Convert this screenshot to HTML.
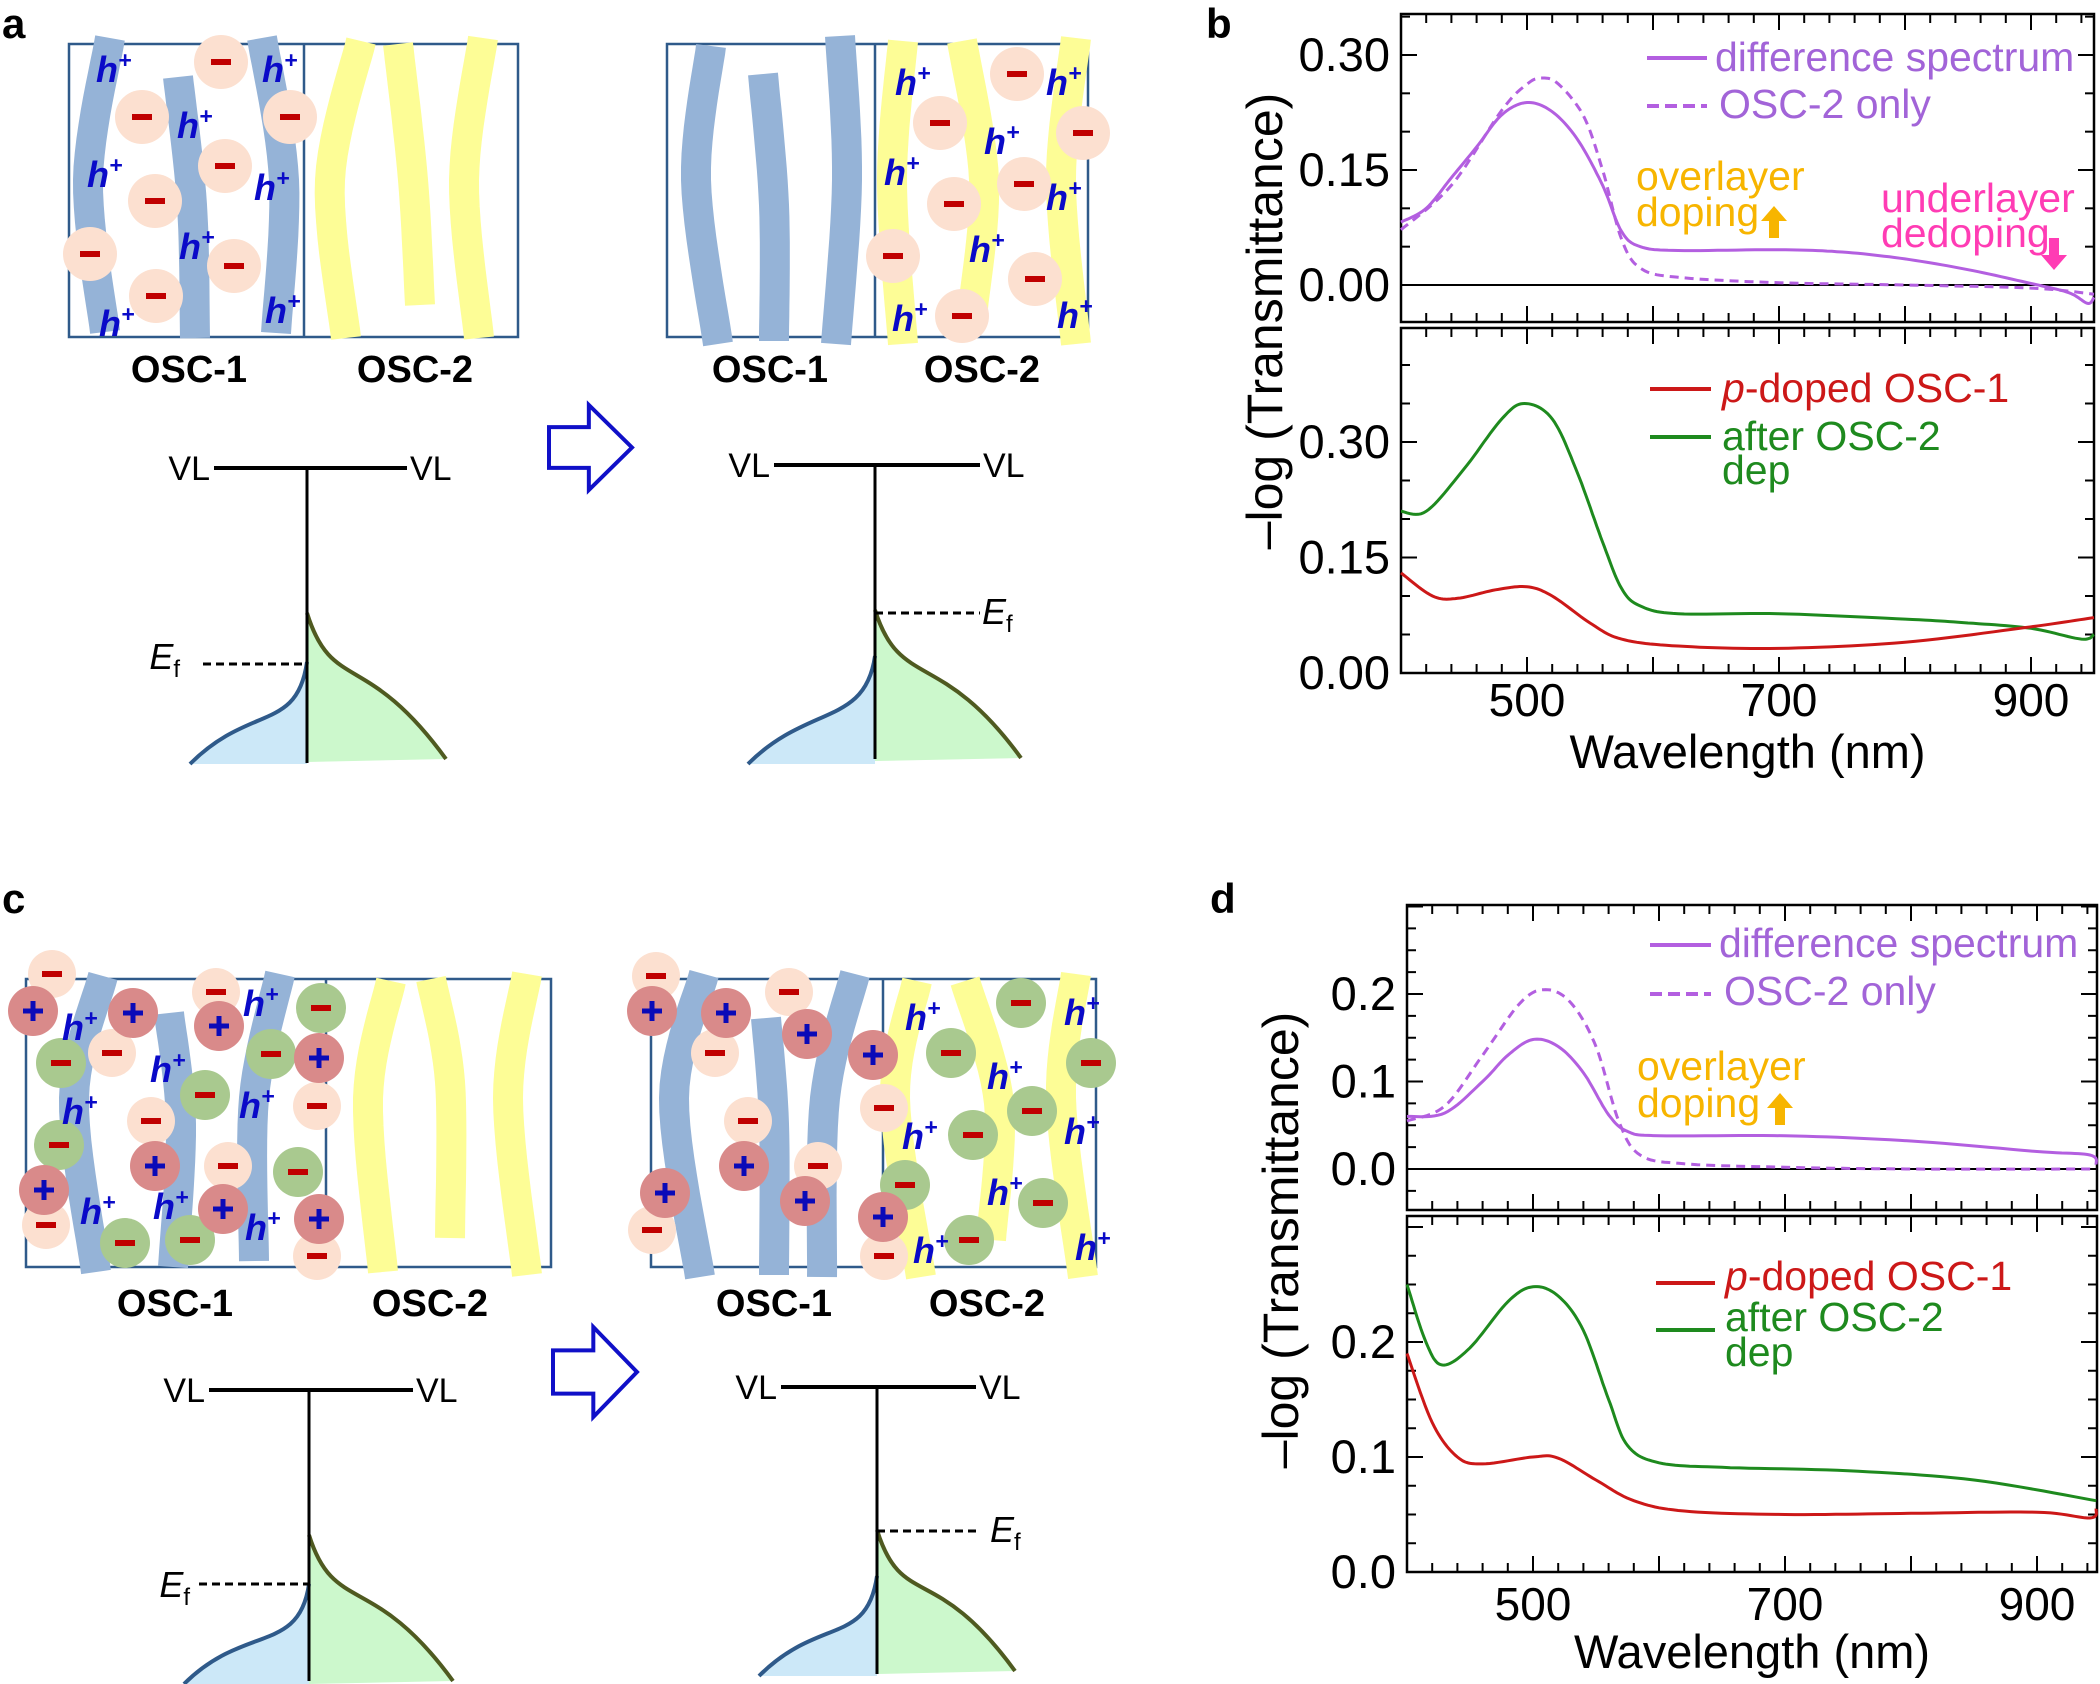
<!DOCTYPE html>
<html><head><meta charset="utf-8"><style>
html,body{margin:0;padding:0;background:#fff}
svg{display:block}
text{font-family:"Liberation Sans",Arial,sans-serif}
</style></head><body>
<svg id="s" xmlns="http://www.w3.org/2000/svg" width="2100" height="1684" viewBox="0 0 2100 1684">
<rect width="2100" height="1684" fill="#fff"/>
<g id="g"></g>
</svg>
<script>
const G=document.getElementById('g');
let H='';
function add(s){H+=s;}
function cr(pts,n){
  let out=[];
  for(let i=0;i<pts.length-1;i++){
    const p0=pts[Math.max(0,i-1)],p1=pts[i],p2=pts[i+1],p3=pts[Math.min(pts.length-1,i+2)];
    for(let t=0;t<n;t++){const u=t/n,u2=u*u,u3=u2*u;
      const f=(a,b,c,d)=>0.5*((2*b)+(-a+c)*u+(2*a-5*b+4*c-d)*u2+(-a+3*b-3*c+d)*u3);
      out.push([f(p0[0],p1[0],p2[0],p3[0]),f(p0[1],p1[1],p2[1],p3[1])]);}
  }
  out.push(pts[pts.length-1]);return out;
}
function poly(p){return p.map((q,i)=>(i?'L':'M')+q[0].toFixed(1)+' '+q[1].toFixed(1)).join('');}
function smooth(pts){return poly(cr(pts,12));}

function axes(L,R,T,B,yz,k,vmin,vmax,major,minor,labels,fmt){
  add(`<rect x="${L}" y="${T}" width="${R-L}" height="${B-T}" fill="none" stroke="#000" stroke-width="2.5"/>`);
  const px=1.26;
  for(let nm=400;nm<=950;nm+=20){const x=L+(nm-400)*px;const maj=nm%100==0;const l=maj?16:9;
    add(`<line x1="${x}" y1="${B}" x2="${x}" y2="${B-l}" stroke="#000" stroke-width="2"/><line x1="${x}" y1="${T}" x2="${x}" y2="${T+l}" stroke="#000" stroke-width="2"/>`);}
  for(let v=Math.ceil(vmin/minor-1e-6)*minor;v<=vmax+1e-9;v+=minor){const y=yz-v*k;if(y<T+1||y>B-1)continue;
    const maj=Math.abs(v/major-Math.round(v/major))<1e-6;const l=maj?16:9;
    add(`<line x1="${L}" y1="${y}" x2="${L+l}" y2="${y}" stroke="#000" stroke-width="2"/><line x1="${R}" y1="${y}" x2="${R-l}" y2="${y}" stroke="#000" stroke-width="2"/>`);}
  labels.forEach(v=>{const y=yz-v*k;add(`<text x="${L-11}" y="${y+16}" font-size="47" text-anchor="end">${v.toFixed(fmt)}</text>`);});
}
function curve(L,yz,k,data,col,dash){
  const pts=data.map(d=>[L+(d[0]-400)*1.26,yz-d[1]*k]);
  add(`<path d="${smooth(pts)}" fill="none" stroke="${col}" stroke-width="3" ${dash?'stroke-dasharray="9 6"':''}/>`);
}
const PU='#b35fe0',RED='#cc1818',GRN='#1e8a1e',OR='#f7b500',PK='#ff3cb4',LP='#a264d8';
function plotLabels(L,R,xb,wb,ytx,yty){
  [500,700,900].forEach(a=>{const x=L+(a-400)*1.26;add(`<text x="${x}" y="${xb}" font-size="46" text-anchor="middle">${a}</text>`);});
  add(`<text x="${(L+R)/2}" y="${wb}" font-size="47" text-anchor="middle">Wavelength (nm)</text>`);
  add(`<text transform="translate(${ytx},${yty}) rotate(-90)" font-size="50" text-anchor="middle">–log (Transmittance)</text>`);
}
const FS=41;
(function(){
  const L=1401,R=2094;
  axes(L,R,14,322,285,766.7,-0.05,0.36,0.15,0.05,[0.30,0.15,0.00],2);
  add(`<line x1="${L}" y1="285" x2="${R}" y2="285" stroke="#000" stroke-width="2"/>`);
  curve(L,285,766.7,[[400,0.082],[420,0.10],[440,0.14],[460,0.18],[480,0.222],[500,0.238],[520,0.226],[540,0.19],[560,0.13],[575,0.07],[590,0.05],[620,0.045],[700,0.046],[750,0.043],[800,0.034],[850,0.02],[900,0.002],[930,-0.01],[945,-0.024],[950,-0.016]],PU);
  curve(L,285,766.7,[[400,0.072],[440,0.13],[480,0.228],[500,0.262],[512,0.27],[525,0.262],[545,0.22],[560,0.15],[575,0.06],[590,0.022],[620,0.01],[700,0.003],[800,0.0],[900,-0.004],[950,-0.012]],PU,1);
  axes(L,R,328,673,673,770,0,0.46,0.15,0.05,[0.30,0.15,0.00],2);
  curve(L,673,770,[[400,0.21],[420,0.21],[450,0.265],[480,0.33],[498,0.35],[520,0.33],[540,0.26],[560,0.17],[575,0.11],[590,0.087],[620,0.077],[700,0.077],[800,0.07],[850,0.065],[900,0.058],[940,0.044],[950,0.05]],GRN);
  curve(L,673,770,[[400,0.13],[425,0.1],[445,0.097],[475,0.108],[500,0.112],[520,0.1],[550,0.065],[575,0.044],[620,0.035],[700,0.032],[800,0.04],[900,0.06],[950,0.072]],RED);
  plotLabels(L,R,716,768,1282,321);
  add(`<text x="1206" y="38" font-size="42" font-weight="bold">b</text>`);
  add(`<line x1="1647" y1="58" x2="1707" y2="58" stroke="${PU}" stroke-width="4"/><text x="1715" y="71" font-size="${FS}" fill="${LP}">difference spectrum</text>`);
  add(`<line x1="1647" y1="106" x2="1707" y2="106" stroke="${PU}" stroke-width="4" stroke-dasharray="12 6"/><text x="1719" y="118" font-size="${FS}" fill="${LP}">OSC-2 only</text>`);
  add(`<text x="1636" y="190" font-size="${FS}" fill="${OR}">overlayer</text><text x="1636" y="226" font-size="${FS}" fill="${OR}">doping</text>`);
  add(`<path d="M1774 206 L1787 221 L1779 221 L1779 238 L1769 238 L1769 221 L1761 221Z" fill="${OR}"/>`);
  add(`<text x="1881" y="212" font-size="${FS}" fill="${PK}">underlayer</text><text x="1881" y="247" font-size="${FS}" fill="${PK}">dedoping</text>`);
  add(`<path d="M2054 270 L2067 255 L2059 255 L2059 238 L2049 238 L2049 255 L2041 255Z" fill="${PK}"/>`);
  add(`<line x1="1650" y1="389" x2="1711" y2="389" stroke="${RED}" stroke-width="4"/><text x="1722" y="402" font-size="${FS}" fill="${RED}"><tspan font-style="italic">p</tspan>-doped OSC-1</text>`);
  add(`<line x1="1650" y1="437" x2="1711" y2="437" stroke="${GRN}" stroke-width="4"/><text x="1722" y="450" font-size="${FS}" fill="${GRN}">after OSC-2</text><text x="1722" y="484" font-size="${FS}" fill="${GRN}">dep</text>`);
})();
(function(){
  const L=1407,R=2097;
  axes(L,R,905,1210,1169,875,-0.05,0.31,0.1,0.025,[0.2,0.1,0.0],1);
  add(`<line x1="${L}" y1="1169" x2="${R}" y2="1169" stroke="#000" stroke-width="2"/>`);
  curve(L,1169,875,[[400,0.06],[430,0.064],[460,0.1],[480,0.13],[500,0.148],[520,0.14],[540,0.11],[560,0.062],[575,0.043],[600,0.038],[700,0.038],[800,0.032],[900,0.02],[942,0.016],[947,0.005]],PU);
  curve(L,1169,875,[[400,0.055],[430,0.072],[460,0.13],[490,0.19],[510,0.205],[530,0.19],[550,0.14],[568,0.055],[585,0.016],[620,0.006],[700,0.002],[800,0.0],[947,0.0]],PU,1);
  axes(L,R,1216,1572,1572,1150,0,0.32,0.1,0.025,[0.2,0.1,0.0],1);
  curve(L,1572,1150,[[400,0.25],[415,0.2],[428,0.18],[450,0.195],[480,0.235],[500,0.248],[520,0.24],[540,0.21],[560,0.15],[575,0.11],[600,0.095],[650,0.091],[750,0.088],[850,0.08],[947,0.062]],GRN);
  curve(L,1572,1150,[[400,0.19],[420,0.13],[440,0.1],[460,0.094],[500,0.1],[520,0.099],[550,0.08],[580,0.062],[620,0.053],[700,0.05],[800,0.051],[900,0.052],[942,0.047],[947,0.055]],RED);
  plotLabels(L,R,1620,1668,1298,1240);
  add(`<text x="1210" y="913" font-size="42" font-weight="bold">d</text>`);
  add(`<line x1="1650" y1="945" x2="1711" y2="945" stroke="${PU}" stroke-width="4"/><text x="1719" y="957" font-size="${FS}" fill="${LP}">difference spectrum</text>`);
  add(`<line x1="1650" y1="994" x2="1711" y2="994" stroke="${PU}" stroke-width="4" stroke-dasharray="12 6"/><text x="1724" y="1005" font-size="${FS}" fill="${LP}">OSC-2 only</text>`);
  add(`<text x="1637" y="1080" font-size="${FS}" fill="${OR}">overlayer</text><text x="1637" y="1117" font-size="${FS}" fill="${OR}">doping</text>`);
  add(`<path d="M1780 1093 L1793 1108 L1785 1108 L1785 1125 L1775 1125 L1775 1108 L1767 1108Z" fill="${OR}"/>`);
  add(`<line x1="1656" y1="1283" x2="1715" y2="1283" stroke="${RED}" stroke-width="4"/><text x="1725" y="1290" font-size="${FS}" fill="${RED}"><tspan font-style="italic">p</tspan>-doped OSC-1</text>`);
  add(`<line x1="1656" y1="1330" x2="1715" y2="1330" stroke="${GRN}" stroke-width="4"/><text x="1725" y="1331" font-size="${FS}" fill="${GRN}">after OSC-2</text><text x="1725" y="1366" font-size="${FS}" fill="${GRN}">dep</text>`);
})();

const BL='#95b3d7',YL='#fdfd96',BOX='#2f5a8a';
function strand(pts,c,w){add(`<path d="${smooth(pts)}" fill="none" stroke="${c}" stroke-width="${w||30}"/>`);}
function minus(x,y,r,fill){add(`<circle cx="${x}" cy="${y}" r="${r}" fill="${fill||'#fce0d0'}"/><rect x="${x-10}" y="${y-3}" width="20" height="6" fill="#c00000"/>`);}
function plus(x,y,r){add(`<circle cx="${x}" cy="${y}" r="${r}" fill="#d98a8a"/><rect x="${x-10}" y="${y-2.5}" width="20" height="5" fill="#0a0ab8"/><rect x="${x-2.5}" y="${y-10}" width="5" height="20" fill="#0a0ab8"/>`);}
function hp(x,y){add(`<text x="${x}" y="${y}" font-size="36" font-weight="bold" font-style="italic" fill="#0a0ac8">h<tspan dy="-14" font-size="23">+</tspan></text>`);}
function box(x1,x2,xd,y1,y2){add(`<rect x="${x1}" y="${y1}" width="${x2-x1}" height="${y2-y1}" fill="none" stroke="${BOX}" stroke-width="2.5"/><line x1="${xd}" y1="${y1}" x2="${xd}" y2="${y2}" stroke="${BOX}" stroke-width="2.5"/>`);}
function osc(x1,x2,y){add(`<text x="${x1}" y="${y}" font-size="38" font-weight="bold" text-anchor="middle">OSC-1</text><text x="${x2}" y="${y}" font-size="38" font-weight="bold" text-anchor="middle">OSC-2</text>`);}
function arrow(x1,y1,x2,y2){const h=(y2-y1),bx=x1+(x2-x1)*0.48,t1=y1+h*0.26,t2=y1+h*0.74,m=(y1+y2)/2;
  add(`<path d="M${x1} ${t1} L${bx} ${t1} L${bx} ${y1} L${x2} ${m} L${bx} ${y2} L${bx} ${t2} L${x1} ${t2}Z" fill="#fff" stroke="#1010c8" stroke-width="4"/>`);}
function energy(cx,vy,xl,xr,bot,gTop,gEndX,gEndY,bTop,bEndX,bEndY,efY,efX1,efX2,efTx,efTy,efLeft){
  add(`<text x="${xl-4}" y="${vy+12}" font-size="34" text-anchor="end">VL</text><text x="${xr+3}" y="${vy+12}" font-size="34">VL</text>`);
  add(`<line x1="${xl}" y1="${vy}" x2="${xr}" y2="${vy}" stroke="#000" stroke-width="4"/>`);
  const gp=`M${cx} ${gTop} C${cx+25} ${gTop+80} ${gEndX-80} ${gEndY-110} ${gEndX} ${gEndY}`;
  add(`<path d="${gp} L${cx} ${gEndY+3}Z" fill="#ccf8cc"/><path d="${gp}" fill="none" stroke="#4f5a20" stroke-width="4"/>`);
  const bp=`M${cx} ${bTop} C${cx-10} ${bTop+70} ${bEndX+60} ${bEndY-60} ${bEndX} ${bEndY}`;
  add(`<path d="${bp} L${cx} ${bEndY}Z" fill="#cce8f8"/><path d="${bp}" fill="none" stroke="#2f5a8a" stroke-width="4"/>`);
  add(`<line x1="${cx}" y1="${vy}" x2="${cx}" y2="${bot}" stroke="#000" stroke-width="3"/>`);
  add(`<line x1="${efX1}" y1="${efY}" x2="${efX2}" y2="${efY}" stroke="#000" stroke-width="3" stroke-dasharray="8 5"/>`);
  add(`<text x="${efTx}" y="${efTy}" font-size="36" font-style="italic"${efLeft?' text-anchor="end"':''}>E<tspan font-style="normal" font-size="24" dy="8">f</tspan></text>`);
}
add(`<text x="2" y="38" font-size="42" font-weight="bold">a</text>`);
box(69,518,304,44,337);
strand([[110,38],[88,180],[105,332]],BL);strand([[178,77],[192,205],[195,338]],BL);strand([[262,38],[284,180],[276,333]],BL);
strand([[361,41],[330,180],[346,338]],YL);strand([[398,44],[413,180],[420,305]],YL);strand([[483,38],[464,180],[479,338]],YL);
[[221,62],[142,117],[290,117],[225,166],[155,201],[90,254],[234,266],[156,296]].forEach(p=>minus(p[0],p[1],27));
[[96,82],[262,82],[177,138],[87,187],[254,200],[179,259],[99,336],[265,323]].forEach(p=>hp(p[0],p[1]));
osc(189,415,382);
box(667,1088,875,44,337);
strand([[711,46],[696,180],[718,344]],BL);strand([[763,74],[774,205],[774,341]],BL);strand([[840,36],[847,180],[836,344]],BL);
strand([[903,41],[892,180],[903,344]],YL);strand([[962,41],[984,180],[973,308]],YL);strand([[1076,38],[1061,180],[1076,344]],YL);
[[1017,74],[940,123],[1083,133],[1024,184],[954,204],[893,256],[1035,279],[962,316]].forEach(p=>minus(p[0],p[1],27));
[[895,95],[1046,95],[984,154],[884,185],[1046,210],[969,262],[892,331],[1057,328]].forEach(p=>hp(p[0],p[1]));
osc(770,982,382);
arrow(549,405,632,490);
energy(307,468,214,407,763,613,446,759,662,190,764,664,203,305,180,669,true);
energy(875,465,774,980,759,610,1021,758,656,748,764,613,875,980,982,624,false);
add(`<text x="2" y="913" font-size="42" font-weight="bold">c</text>`);
box(26,551,326,979,1267);
strand([[103,976],[74,1098],[96,1272]],BL);strand([[169,1013],[181,1124],[173,1267]],BL);strand([[280,974],[254,1098],[254,1261]],BL);
strand([[391,981],[368,1098],[383,1272]],YL);strand([[431,979],[450,1082],[450,1238]],YL);strand([[527,974],[508,1098],[527,1275]],YL);
const GR='#a9c98f';
[[52,974],[112,1053],[216,992],[151,1121],[317,1106],[228,1166],[46,1225],[317,1256]].forEach(p=>minus(p[0],p[1],24));
[[61,1063],[321,1008],[205,1095],[271,1054],[59,1145],[298,1172],[125,1243],[190,1240]].forEach(p=>minus(p[0],p[1],25,GR));
[[33,1011],[133,1013],[219,1026],[319,1058],[155,1166],[44,1190],[223,1209],[319,1219]].forEach(p=>plus(p[0],p[1],25));
[[62,1040],[150,1082],[62,1124],[243,1016],[239,1118],[80,1224],[153,1219],[245,1240]].forEach(p=>hp(p[0],p[1]));
osc(175,430,1316);
box(651,1096,883,979,1267);
strand([[704,974],[674,1098],[700,1277]],BL);strand([[766,1018],[774,1124],[774,1275]],BL);strand([[855,974],[825,1098],[822,1277]],BL);
strand([[917,981],[895,1098],[921,1277]],YL);strand([[965,981],[999,1103],[991,1240]],YL);strand([[1076,974],[1061,1098],[1083,1277]],YL);
[[656,976],[789,992],[715,1053],[884,1108],[748,1121],[818,1166],[652,1230],[884,1256]].forEach(p=>minus(p[0],p[1],24));
[[1021,1003],[951,1053],[1091,1063],[1032,1111],[973,1135],[905,1185],[1043,1203],[969,1240]].forEach(p=>minus(p[0],p[1],25,GR));
[[652,1011],[726,1013],[807,1034],[873,1055],[744,1166],[805,1201],[665,1193],[883,1217]].forEach(p=>plus(p[0],p[1],25));
[[905,1030],[1064,1025],[987,1089],[902,1149],[1064,1144],[987,1205],[913,1263],[1075,1260]].forEach(p=>hp(p[0],p[1]));
osc(774,987,1316);
arrow(553,1327,637,1417);
energy(309,1390,209,413,1681,1535,453,1681,1584,184,1684,1584,199,309,190,1597,true);
energy(877,1387,781,976,1674,1530,1015,1671,1576,759,1676,1531,877,976,990,1542,false);
G.innerHTML=H;
</script>
</body></html>
